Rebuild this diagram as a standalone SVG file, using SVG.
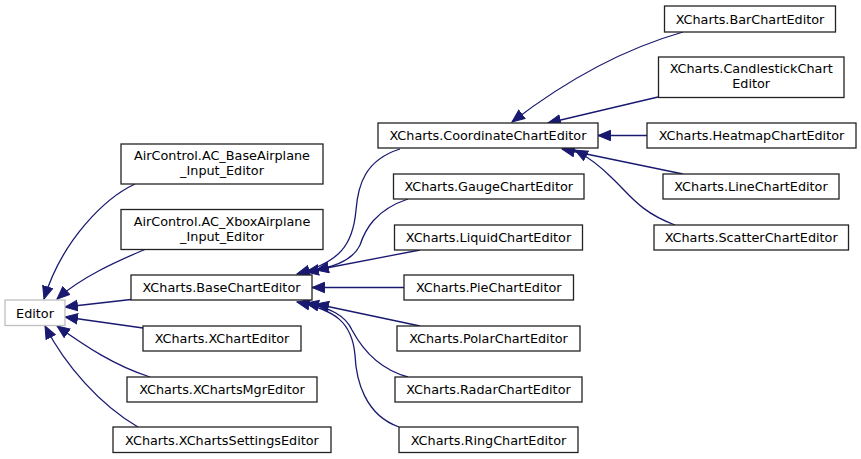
<svg xmlns="http://www.w3.org/2000/svg" width="861" height="459" viewBox="0 0 861 459">
<style>
.n rect{fill:#fff;stroke:#222;stroke-width:1.3}
.g rect{fill:#fff;stroke:#bfbfbf;stroke-width:1.3}
text{font-family:"DejaVu Sans",sans-serif;font-size:12.8px;fill:#000;text-anchor:middle}
#edges path{fill:none;stroke:#191970;stroke-width:1.3;marker-end:url(#ah)}
</style>
<defs>
<marker id="ah" markerUnits="userSpaceOnUse" markerWidth="16" markerHeight="14" refX="13" refY="6" orient="auto">
<path d="M0.5,0.8 L13,6 L0.5,11.2 z" fill="#191970" stroke="#191970" stroke-width="1"/>
</marker>
</defs>
<rect width="861" height="459" fill="#fff"/>
<g id="edges">
<path d="M135,184 C105,198 62,240 44,299"/>
<path d="M146,249 C115,262 80,278 57,299"/>
<path d="M131,299.5 L65,307"/>
<path d="M143,328 L65,317"/>
<path d="M150,377 C115,366 85,346 57,326"/>
<path d="M138,427 C100,405 65,365 45,326"/>
<path d="M400,149 C365,160 358,185 356,210 C353,245 340,262 297,274"/>
<path d="M408,199 C375,210 365,230 360,245 C352,262 330,268 306,272"/>
<path d="M420,250 L316,270"/>
<path d="M404,287.5 L312,287.5"/>
<path d="M420,326 L316,304"/>
<path d="M408,377 C375,368 360,345 352,330 C345,315 330,308 306,303"/>
<path d="M399,427 C365,415 356,380 355,355 C352,322 335,310 297,302"/>
<path d="M683,32 C620,50 560,85 512,122"/>
<path d="M658,97 L548,123"/>
<path d="M647,135.5 L598,135.5"/>
<path d="M683,174 L562,149"/>
<path d="M675,225 C640,212 630,195 612,178 C600,166 590,158 575,150"/>
</g>
<g id="Editor" class="g"><rect x="5" y="300" width="60" height="25.5"/><text x="35" y="317.5">Editor</text></g>
<g id="AC_Base" class="n"><rect x="121" y="144" width="202" height="40"/><text x="222" y="160">AirControl.AC_BaseAirplane</text><text x="222" y="175">_Input_Editor</text></g>
<g id="AC_Xbox" class="n"><rect x="121" y="209.5" width="202" height="40"/><text x="222" y="225.5">AirControl.AC_XboxAirplane</text><text x="222" y="240.5">_Input_Editor</text></g>
<g id="BaseChart" class="n"><rect x="131" y="275" width="181" height="25"/><text x="221.5" y="292">XCharts.BaseChartEditor</text></g>
<g id="XChart" class="n"><rect x="143" y="326" width="158" height="25"/><text x="222" y="343">XCharts.XChartEditor</text></g>
<g id="XChartsMgr" class="n"><rect x="127" y="377" width="190" height="25"/><text x="222" y="394">XCharts.XChartsMgrEditor</text></g>
<g id="XChartsSettings" class="n"><rect x="113" y="427" width="218" height="25.5"/><text x="222" y="444.5">XCharts.XChartsSettingsEditor</text></g>
<g id="Coordinate" class="n"><rect x="378" y="123" width="220" height="25"/><text x="488" y="140">XCharts.CoordinateChartEditor</text></g>
<g id="Gauge" class="n"><rect x="393.5" y="174" width="190.5" height="25"/><text x="488.7" y="191">XCharts.GaugeChartEditor</text></g>
<g id="Liquid" class="n"><rect x="394.5" y="225" width="188" height="25"/><text x="488.5" y="242">XCharts.LiquidChartEditor</text></g>
<g id="Pie" class="n"><rect x="404" y="275" width="169.5" height="25"/><text x="488.7" y="292">XCharts.PieChartEditor</text></g>
<g id="Polar" class="n"><rect x="397" y="326" width="183" height="25"/><text x="488.5" y="343">XCharts.PolarChartEditor</text></g>
<g id="Radar" class="n"><rect x="395" y="377" width="187" height="25"/><text x="488.5" y="394">XCharts.RadarChartEditor</text></g>
<g id="Ring" class="n"><rect x="399" y="427" width="179" height="25.5"/><text x="488.5" y="444.5">XCharts.RingChartEditor</text></g>
<g id="Bar" class="n"><rect x="664.5" y="6" width="171" height="26"/><text x="750" y="23.5">XCharts.BarChartEditor</text></g>
<g id="Candlestick" class="n"><rect x="658.5" y="57" width="185.5" height="40.5"/><text x="751.2" y="72.5">XCharts.CandlestickChart</text><text x="751.2" y="87.5">Editor</text></g>
<g id="Heatmap" class="n"><rect x="647" y="123" width="209" height="25"/><text x="751.5" y="140">XCharts.HeatmapChartEditor</text></g>
<g id="Line" class="n"><rect x="663" y="174" width="176" height="25"/><text x="751" y="191">XCharts.LineChartEditor</text></g>
<g id="Scatter" class="n"><rect x="654" y="225" width="194.5" height="25"/><text x="751.2" y="242">XCharts.ScatterChartEditor</text></g>
</svg>
